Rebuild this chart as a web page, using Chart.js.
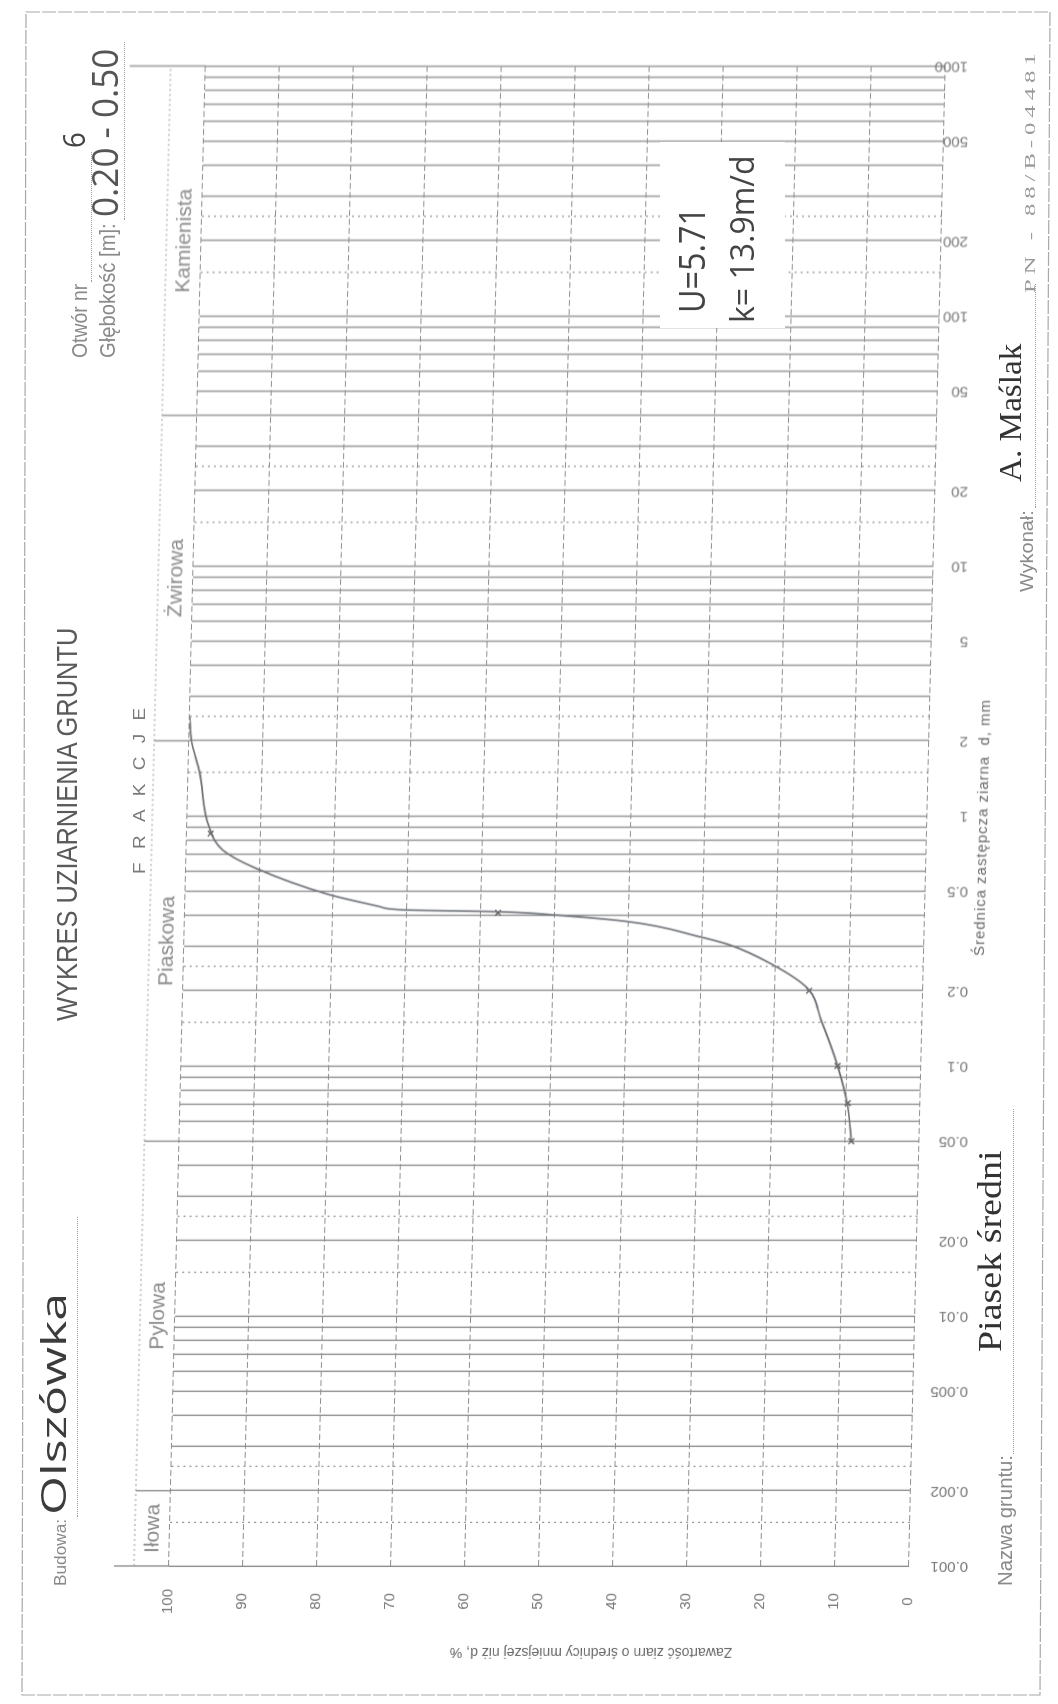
<!DOCTYPE html>
<html>
<head>
<meta charset="utf-8">
<script src="https://cdn.jsdelivr.net/npm/chart.js@4.4.1/dist/chart.umd.min.js"></script>
<style>
  html, body { margin: 0; padding: 0; background: #fff; }
  #page { position: relative; width: 1058px; height: 1704px; overflow: hidden; background: #fff; }
  #land { position: absolute; left: 0; top: 0; width: 1704px; height: 1058px;
          transform-origin: 0 0; transform: translate(0, 1704px) rotate(-90deg); }
  #skew { position: absolute; left: 0; top: 0; width: 1704px; height: 1058px;
          transform-origin: 874px 0; transform: skewY(1.4deg); }
  .t { position: absolute; white-space: nowrap; line-height: 1; transform-origin: 0 50%;
       font-family: "Liberation Sans", Arial, sans-serif; }
  .lead { position: absolute; height: 0; border-top: 1.5px dotted #9a9a9a; }
  #box { position: absolute; left: 1376px; top: 660px; width: 186px; height: 125px; background: #fff; }
  svg { position: absolute; left: 0; top: 0; }
</style>
</head>
<body>
<div id="page">
  <svg width="1058" height="1704">
    <polygon points="26,12 1050,12 1040,1695 22,1695" fill="none" stroke="#a8a8a8" stroke-width="1.2" stroke-dasharray="14,2"/>
  </svg>
  <div id="land">
    <div id="skew"><canvas id="c" width="1704" height="1058"></canvas></div>
    <div id="box"></div>
  </div>
</div>
<script>
// wykres uziarnienia
const tickLabels = ['0.001', '0.002', '0.005', '0.01', '0.02', '0.05', '0.1', '0.2', '0.5',
                    '1', '2', '5', '10', '20', '50', '100', '200', '500', '1000'];
const decades = [0.001, 0.01, 0.1, 1, 10, 100];
const solidSteps = [1, 2, 3, 4, 5, 6, 7, 8, 9];
const dottedSteps = [1.5, 2.5];
const percentTicks = [0, 10, 20, 30, 40, 50, 60, 70, 80, 90, 100];

const fractionBounds = [0.001, 0.002, 0.05, 2, 40, 1000];
const fractionNames = ['Iłowa', 'Pylowa', 'Piaskowa', 'Żwirowa', 'Kamienista'];

// krzywa uziarnienia: średnica [mm] -> zawartość [%]
const diameters = [0.05, 0.069, 0.1, 0.153, 0.204, 0.254, 0.305, 0.329, 0.378, 0.401,
                   0.414, 0.421, 0.434, 0.485, 0.62, 0.73, 0.9, 1.5, 2.0, 2.5];
const passing = [9.2, 9.8, 11.3, 13.7, 15.6, 20.4, 26.3, 30.4, 40.1, 49.8,
                 57.7, 70.4, 73.7, 80.6, 90.7, 95.1, 97.0, 98.5, 99.7, 100];
// punkty pomiarowe (sita)
const sieveD = [0.05, 0.071, 0.1, 0.2, 0.41, 0.85];
const sieveP = [9.2, 9.8, 11.3, 15.4, 57.7, 96.8];

const K = Math.tan(1.4 * Math.PI / 180);   // skos skanu
const U0 = 874;
const key = v => (+v).toPrecision(6);

const dotted = new Set();
const gridValues = [];
decades.forEach(d => {
  solidSteps.forEach(m => gridValues.push(+(m * d).toPrecision(6)));
  dottedSteps.forEach(m => { const v = +(m * d).toPrecision(6); gridValues.push(v); dotted.add(key(v)); });
});
gridValues.push(1000);
gridValues.sort((a, b) => a - b);

const isDot = c => c.tick && dotted.has(key(c.tick.value));

// tekst rozstrzelony na zadaną długość
function spread(ctx, txt, u0, u1, v) {
  const chars = [...txt];
  const w = chars.reduce((s, ch) => s + ctx.measureText(ch).width, 0);
  const gap = (u1 - u0 - w) / (chars.length - 1);
  let u = u0;
  ctx.textAlign = 'left';
  chars.forEach(ch => { ctx.fillText(ch, u, v); u += ctx.measureText(ch).width + gap; });
}

const extras = {
  id: 'extras',
  afterDraw(chart) {
    const { ctx, chartArea: a, scales: { x } } = chart;
    const line = (x1, y1, x2, y2) => { ctx.beginPath(); ctx.moveTo(x1, y1); ctx.lineTo(x2, y2); ctx.stroke(); };
    ctx.save();
    // pasmo frakcji
    ctx.strokeStyle = '#858585';
    ctx.lineWidth = 1.3;
    fractionBounds.slice(1, -1).forEach(b => { const u = x.getPixelForValue(b); line(u, 152, u, a.top); });
    line(a.left, 132, a.left, a.top);
    line(a.right, 111, a.right, a.top);
    ctx.setLineDash([2, 3]);
    ctx.strokeStyle = '#9a9a9a';
    ctx.lineWidth = 1.2;
    line(a.left, 152, a.right, 152);
    ctx.setLineDash([]);

    ctx.fillStyle = '#8a8a8a';
    ctx.font = '21px "Liberation Sans", Arial, sans-serif';
    ctx.textAlign = 'center';
    ctx.textBaseline = 'middle';
    fractionNames.forEach((n, i) => {
      const u = (x.getPixelForValue(fractionBounds[i]) + x.getPixelForValue(fractionBounds[i + 1])) / 2;
      ctx.fillText(n, u, 170);
    });

    // opisy osi średnic (odwrócone)
    ctx.fillStyle = '#777';
    ctx.font = '15px "Liberation Sans", Arial, sans-serif';
    tickLabels.forEach(l => {
      const u = x.getPixelForValue(parseFloat(l));
      ctx.save();
      ctx.translate(u, 968 - K * (u - U0));
      ctx.rotate(-Math.PI / 2);
      ctx.textAlign = 'left';
      ctx.fillText(l, 0, 0);
      ctx.restore();
    });

    ctx.fillStyle = '#666';
    ctx.font = '15px "Liberation Sans", Arial, sans-serif';
    spread(ctx, 'Średnica zastępcza ziarna  d, mm', 748, 1004, 983);

    ctx.font = '14px "Liberation Sans", Arial, sans-serif';
    ctx.textAlign = 'center';
    ctx.translate(52, 591 - K * (52 - U0));
    ctx.rotate(-Math.PI / 2);
    ctx.fillText('Zawartość ziarn o średnicy mniejszej niż d, %', 0, 0);
    ctx.restore();
  }
};

new Chart(document.getElementById('c').getContext('2d'), {
  type: 'line',
  data: {
    datasets: [
      {
        data: diameters.map((d, i) => ({ x: d, y: passing[i] })),
        borderColor: '#6c7076',
        borderWidth: 1.7,
        pointRadius: 0,
        cubicInterpolationMode: 'monotone',
        fill: false
      },
      {
        data: sieveD.map((d, i) => ({ x: d, y: sieveP[i] })),
        showLine: false,
        pointStyle: 'crossRot',
        pointRadius: 4,
        borderColor: '#555',
        borderWidth: 1.3
      }
    ]
  },
  options: {
    responsive: false,
    animation: false,
    devicePixelRatio: 1,
    layout: { padding: { left: 0, right: 66, top: 187, bottom: 0 } },
    plugins: { legend: { display: false }, tooltip: { enabled: false } },
    scales: {
      x: {
        type: 'logarithmic',
        min: 0.001,
        max: 1000,
        afterBuildTicks: s => { s.ticks = gridValues.map(v => ({ value: v })); },
        afterFit: s => { s.height = 131; },
        ticks: { display: false },
        grid: {
          drawTicks: false,
          color: c => isDot(c) ? '#8c8c8c' : '#858585',
          lineWidth: c => isDot(c) ? 1.2 : 1.3
        },
        border: { display: false, dash: c => isDot(c) ? [2, 4] : [] }
      },
      y: {
        min: 0,
        max: 100,
        afterBuildTicks: s => { s.ticks = percentTicks.map(v => ({ value: v })); },
        afterFit: s => { s.width = 138; },
        ticks: {
          padding: 23,
          crossAlign: 'center',
          color: '#777',
          font: { size: 15, family: '"Liberation Sans", Arial, sans-serif' }
        },
        grid: { drawTicks: false, color: '#8e8e8e', lineWidth: 1.1 },
        border: { display: false, dash: c => c.tick ? [6, 3] : [] }
      }
    }
  },
  plugins: [extras]
});

// opisy nagłówka
const land = document.getElementById('land');
function put(txt, u0, u1, v, fs, color, fam, ls) {
  const d = document.createElement('div');
  d.className = 't';
  d.textContent = txt;
  d.style.left = u0 + 'px';
  d.style.top = (v - fs / 2) + 'px';
  d.style.fontSize = fs + 'px';
  d.style.color = color;
  if (fam) d.style.fontFamily = fam;
  if (ls) d.style.letterSpacing = ls + 'px';
  land.appendChild(d);
  d.style.transform = 'scaleX(' + ((u1 - u0) / d.offsetWidth).toFixed(3) + ')';
}
function lead(u0, u1, v) {
  const d = document.createElement('div');
  d.className = 'lead';
  d.style.left = u0 + 'px';
  d.style.width = (u1 - u0) + 'px';
  d.style.top = v + 'px';
  land.appendChild(d);
}
const sans = '"Open Sans", "Liberation Sans", sans-serif';
const serif = '"Liberation Serif", "DejaVu Serif", serif';

put('Budowa:', 118, 185, 60, 17, '#8a8a8a');
put('Olszówka', 189, 411, 52, 35, '#3c3c3c', sans);
lead(187, 487, 77);
put('WYKRES UZIARNIENIA GRUNTU', 683, 1076, 67, 30, '#5a5a5a');
put('FRAKCJE', 830, 1009, 139, 17, '#7a7a7a', null, 12);
put('Otwór nr', 1346, 1420, 80, 22, '#8a8a8a');
lead(1422, 1552, 91);
put('6', 1556, 1572, 73, 31, '#444', sans);
put('Głębokość [m]:', 1346, 1481, 108, 22, '#8a8a8a');
put('0.20 - 0.50', 1487, 1656, 103, 37, '#555', sans);
lead(1484, 1662, 124);
put('Nazwa gruntu:', 118, 249, 1005, 20, '#8a8a8a');
put('Piasek średni', 352, 553, 990, 34, '#333', serif);
lead(250, 595, 1013);
put('Wykonał:', 1112, 1194, 1027, 18, '#8a8a8a');
put('A. Maślak', 1222, 1360, 1010, 32, '#333', serif);
lead(1196, 1420, 1035);
put('PN - 88/B-04481', 1411, 1655, 1030, 15, '#9a9a9a', serif, 3);
put('U=5.71', 1391, 1497, 692, 36, '#444', sans);
put('k= 13.9m/d', 1381, 1549, 742, 32, '#444', sans);
</script>
</body>
</html>
